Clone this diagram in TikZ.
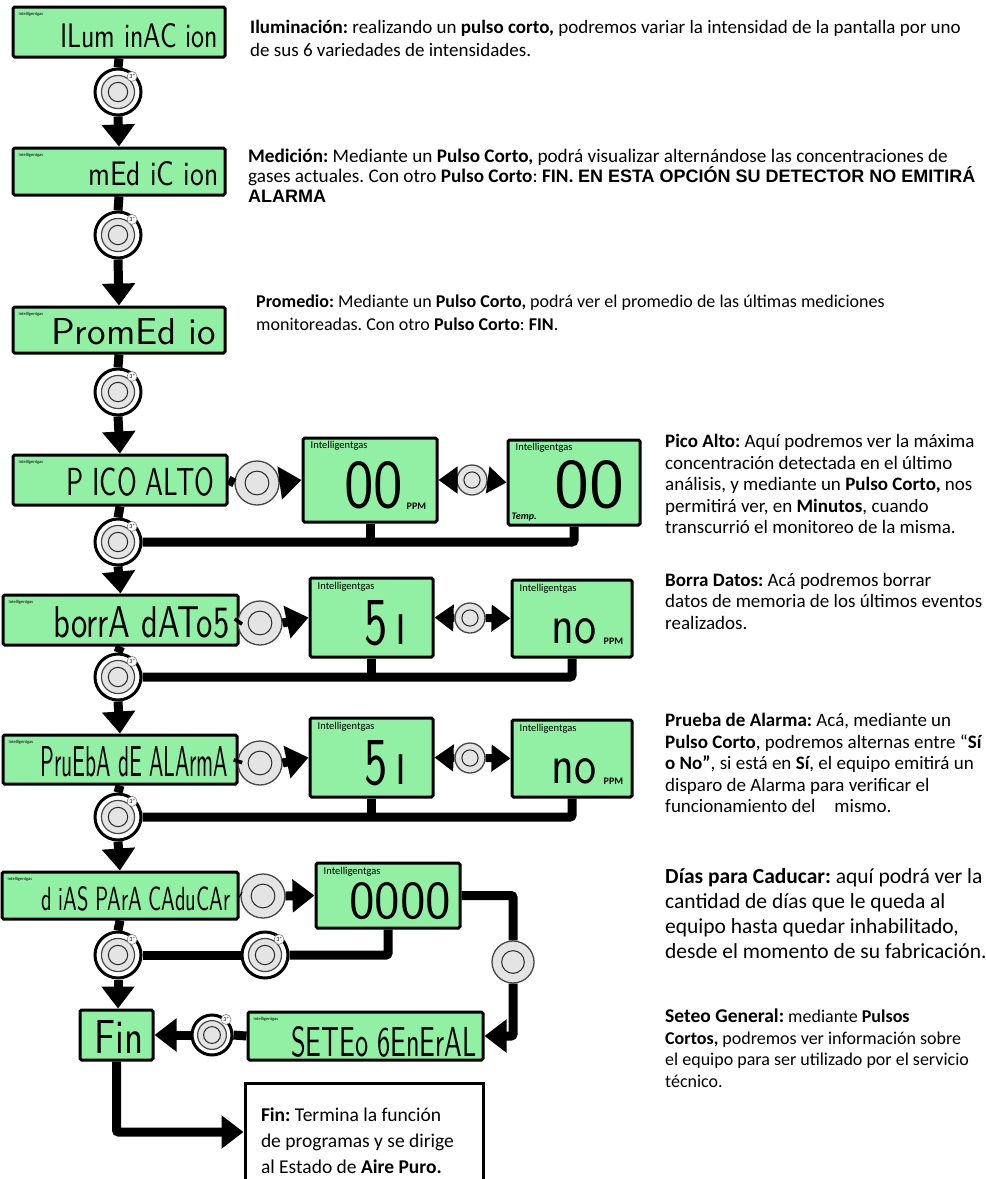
\documentclass[tikz,border=0pt]{standalone}
\usepackage{fontspec}
\usepackage{graphicx}
\setmainfont{Carlito}
\newfontfamily\arialfont{Liberation Sans}
\usetikzlibrary{arrows.meta,calc,positioning}

\definecolor{lcdgreen}{RGB}{146,240,164}
\definecolor{btngray}{RGB}{228,228,228}
\definecolor{btnedge}{RGB}{70,70,70}

% segment text squeezed into the display window
\newcommand{\lcdtxt}[3]{\resizebox{#1pt}{#2pt}{\sffamily #3}}

\begin{document}
\frenchspacing
\begin{tikzpicture}[x=1pt, y=-1pt,
    lcd/.style={draw, line width=3pt, fill=lcdgreen, rounded corners=1.5pt, inner sep=0pt},
    tag/.style={font=\fontsize{4.5}{5}\selectfont, inner sep=0pt, anchor=north west},
    bigtag/.style={font=\fontsize{10.5}{12}\selectfont, inner sep=0pt, anchor=north west},
    seg/.style={inner sep=0pt, anchor=south east},
    unit/.style={font=\fontsize{10}{11}\selectfont\bfseries, inner sep=0pt, anchor=south west},
    pulse/.style={circle, draw=btnedge, line width=1.3pt, fill=btngray, minimum size=#1, inner sep=0pt,
        path picture={\draw[line width=1pt, black!85] (path picture bounding box.center) circle (#1*0.27pt);}},
    hold/.style={circle, draw=black, line width=3pt, fill=white, minimum size=#1, inner sep=0pt,
        path picture={\draw[btnedge, fill=btngray, line width=1.2pt] (path picture bounding box.center) circle (#1*0.36pt);
                      \draw[black!85, line width=1pt] (path picture bounding box.center) circle (#1*0.21pt);}},
    badge/.style={circle, draw=gray, fill=white, line width=0.6pt, inner sep=0pt, minimum size=10pt,
        font=\fontsize{6}{6}\selectfont},
    link/.style={line width=9pt, rounded corners=2pt},
    flow/.style={line width=9pt, rounded corners=2pt, -{Triangle[width=32pt,length=22pt]}},
    sflow/.style={line width=8pt, -{Triangle[width=26pt,length=19pt]}},
    desc/.style={anchor=north west, align=left, inner sep=0pt, font=\fontsize{19}{21.5}\selectfont},
    note/.style={draw, line width=3pt, fill=white, minimum width=238, minimum height=116,
        text width=206, align=flush left, inner sep=0pt, font=\fontsize{19.5}{26}\selectfont}]

\useasboundingbox (0,0) rectangle (986,1179);

% main menu displays
\node[lcd, minimum width=212, minimum height=50] (ilum) at (119,32) {};
\node[lcd, minimum width=212, minimum height=47] (med) at (119,171.5) {};
\node[lcd, minimum width=212, minimum height=46] (prom) at (119,330) {};
\node[lcd, minimum width=214, minimum height=50] (pico) at (120,480) {};
\node[lcd, minimum width=235, minimum height=50] (borra) at (120.5,620) {};
\node[lcd, minimum width=234, minimum height=49] (prueba) at (120,759.5) {};
\node[lcd, minimum width=236, minimum height=47] (dias) at (120,895.5) {};
\node[lcd, minimum width=73, minimum height=50] (fin) at (116.5,1035) {};
\node[lcd, minimum width=235, minimum height=48] (seteo) at (365.5,1036) {};

\foreach \n in {ilum,med,prom,pico,borra,prueba,dias,seteo}
    \node[tag] (\n-tag) at ($(\n.north west)+(7,7)$) {Intelligentgas};

\node[seg] (ilum-seg) at ($(ilum.south east)+(-8,-10)$) {\lcdtxt{158}{24}{ILum inAC ion}};
\node[seg] (med-seg) at ($(med.south east)+(-8,-10)$) {\lcdtxt{130}{24}{mEd iC ion}};
\node[seg] (prom-seg) at ($(prom.south east)+(-10,-9)$) {\lcdtxt{165}{26}{PromEd io}};
\node[seg] (pico-seg) at ($(pico.south east)+(-14,-10)$) {\lcdtxt{148}{28}{P ICO ALTO}};
\node[seg] (borra-seg) at ($(borra.south east)+(-10,-8)$) {\lcdtxt{176}{31}{borrA dATo5}};
\node[seg] (prueba-seg) at ($(prueba.south east)+(-10,-8)$) {\lcdtxt{188}{30}{PruEbA dE ALArmA}};
\node[seg] (dias-seg) at ($(dias.south east)+(-9,-9)$) {\lcdtxt{189}{24}{d iAS PArA CAduCAr}};
\node[seg] (fin-seg) at ($(fin.south east)+(-11,-8)$) {\lcdtxt{49}{33}{Fin}};
\node[seg] (seteo-seg) at ($(seteo.south east)+(-8,-4)$) {\lcdtxt{185}{30}{SETEo 6EnErAL}};

% sub displays
\node[lcd, minimum width=134, minimum height=84] (peak) at (370,480) {};
\node[lcd, minimum width=132, minimum height=85] (peakt) at (574,482.5) {};
\node[lcd, minimum width=123, minimum height=79] (delyes) at (371.5,617.5) {};
\node[lcd, minimum width=120, minimum height=77] (delno) at (572,618.5) {};
\node[lcd, minimum width=123, minimum height=79] (almyes) at (371.5,757.5) {};
\node[lcd, minimum width=120, minimum height=77] (almno) at (572,758.5) {};
\node[lcd, minimum width=144, minimum height=65] (count) at (388,895.5) {};

\foreach \n in {peak,peakt,delyes,delno,almyes,almno,count}
    \node[bigtag] (\n-tag) at ($(\n.north west)+(9,5)$) {Intelligentgas};

\node[seg] (peak-seg) at ($(peak.south east)+(-35,-14)$) {\lcdtxt{59}{46}{00}};
\node[unit] (peak-unit) at ($(peak-seg.south east)+(3,0)$) {PPM};
\node[seg] (peakt-seg) at ($(peakt.south east)+(-17,-17)$) {\lcdtxt{70}{47}{00}};
\node[unit] (peakt-unit) at ($(peakt.south west)+(5,-5)$) {\itshape Temp.};
\node[seg] (delyes-seg) at ($(delyes.south east)+(-28,-12)$) {\lcdtxt{42}{44}{5\,\i}};
\node[seg] (delno-seg) at ($(delno.south east)+(-37,-14)$) {\lcdtxt{45}{25}{no}};
\node[unit] (delno-unit) at ($(delno-seg.south east)+(7,0)$) {PPM};
\node[seg] (almyes-seg) at ($(almyes.south east)+(-28,-12)$) {\lcdtxt{42}{44}{5\,\i}};
\node[seg] (almno-seg) at ($(almno.south east)+(-37,-14)$) {\lcdtxt{45}{25}{no}};
\node[unit] (almno-unit) at ($(almno-seg.south east)+(7,0)$) {PPM};
\node[seg] (count-seg) at ($(count.south east)+(-10,-10)$) {\lcdtxt{102}{36}{0000}};

% buttons, long press
\node[hold=46] (ilum-btn) at (118,92) {};
\node[hold=46] (med-btn) at (118,235) {};
\node[hold=46] (prom-btn) at (118,392) {};
\node[hold=46] (pico-btn) at (118,542) {};
\node[hold=46] (borra-btn) at (118,677) {};
\node[hold=46] (prueba-btn) at (118,817) {};
\node[hold=46] (dias-btn) at (118,955) {};
\node[hold=46] (count-btn) at (265,955) {};
\node[hold=40] (seteo-btn) at (212,1035) {};

\foreach \b in {ilum,med,prom,pico,borra,prueba,dias,count,seteo}
    \node[badge] (\b-3s) at ($(\b-btn.center)+(48:21pt)$) {3"};

% buttons, short press
\node[pulse=44] (pico-key) at (257,483) {};
\node[pulse=44] (borra-key) at (260,623) {};
\node[pulse=44] (prueba-key) at (260,763) {};
\node[pulse=44] (dias-key) at (263,896) {};
\node[pulse=30] (peak-key) at (472,480) {};
\node[pulse=30] (del-key) at (470,618) {};
\node[pulse=30] (alm-key) at (470,758) {};
\node[pulse=42] (count-key) at (513,962) {};

% main column
\foreach \a/\b in {ilum/med,med/prom,prom/pico,pico/borra,borra/prueba,prueba/dias}{
    \draw[link] (\a.south) -- (\a-btn.north);
    \draw[flow] (\a-btn.south) -- (\b.north);
}
\draw[link] (dias.south) -- (dias-btn.north);
\draw[flow] (dias-btn.south) -- (dias-btn.south |- fin.north);

% side branches
\foreach \a/\x/\y/\k in {pico/peak/peakt/peak,borra/delyes/delno/del,prueba/almyes/almno/alm}{
    \draw[link] (\a.east) -- (\a-key.west);
    \draw[flow] (\a-key.east) -- (\x.west);
    \draw[sflow] (\k-key.west) -- (\x.east);
    \draw[sflow] (\k-key.east) -- (\y.west);
    \draw[link] (\a-btn.east) -| (\y.south);
    \draw[link] (\x.south) -- (\x.south |- \a-btn.east);
}

% days / service
\draw[link] (dias.east) -- (dias-key.west);
\draw[flow] (dias-key.east) -- (count.west);
\draw[link] (dias-btn.east) -- (count-btn.west);
\draw[link] (count-btn.east) -| (count.south);
\draw[link] (count.east) -| (count-key.north);
\draw[flow] (count-key.south) |- (seteo.east);
\draw[link] (seteo.west) -- (seteo-btn.east);
\draw[flow] (seteo-btn.west) -- (fin.east);

% end note
\node[note] (finnote) at (364,1141) {\textbf{Fin:} Termina la función\\de programas y se dirige\\al Estado de \textbf{Aire Puro.}};
\coordinate (finnote-in) at ($(finnote.west)+(0,-9)$);
\draw[flow] (fin.south) |- (finnote-in);

% descriptions
\node[desc, font=\fontsize{19}{23}\selectfont] (ilum-txt) at (250,20) {\textbf{Iluminación:} realizando un \textbf{pulso corto,} podremos variar la intensidad de la pantalla por uno\\de sus 6 variedades de intensidades.};
\node[desc, font=\fontsize{19.2}{20}\selectfont] (med-txt) at (248,149) {\textbf{Medición:} Mediante un \textbf{Pulso Corto,} podrá visualizar alternándose las concentraciones de\\gases actuales. Con otro \textbf{Pulso Corto}: \textbf{FIN. {\arialfont\fontsize{18}{20}\selectfont EN ESTA OPCIÓN SU DETECTOR NO EMITIRÁ}}\\{\arialfont\bfseries\fontsize{18}{20}\selectfont ALARMA}};
\node[desc, font=\fontsize{18}{23}\selectfont] (prom-txt) at (256,294.5) {\textbf{Promedio:} Mediante un \textbf{Pulso Corto,} podrá ver el promedio de las últimas mediciones\\monitoreadas. Con otro \textbf{Pulso Corto}: \textbf{FIN}.};
\node[desc] (pico-txt) at (665,434) {\textbf{Pico Alto:} Aquí podremos ver la máxima\\concentración detectada en el último\\análisis, y mediante un \textbf{Pulso Corto,} nos\\permitirá ver, en \textbf{Minutos}, cuando\\transcurrió el monitoreo de la misma.};
\node[desc] (borra-txt) at (665,573) {\textbf{Borra Datos:} Acá podremos borrar\\datos de memoria de los últimos eventos\\realizados.};
\node[desc] (prueba-txt) at (665,713) {\textbf{Prueba de Alarma:} Acá, mediante un\\\textbf{Pulso Corto}, podremos alternas entre “\textbf{Sí}\\\textbf{o No”}, si está en \textbf{Sí}, el equipo emitirá un\\disparo de Alarma para verificar el\\funcionamiento del\quad mismo.};
\node[desc, font=\fontsize{21.5}{25}\selectfont] (dias-txt) at (665,868) {\textbf{Días para Caducar:} aquí podrá ver la\\cantidad de días que le queda al\\equipo hasta quedar inhabilitado,\\desde el momento de su fabricación.};
\node[desc, font=\fontsize{18}{21.5}\selectfont] (seteo-txt) at (665,1009) {{\fontsize{19.5}{21.5}\selectfont\textbf{Seteo General:}} mediante \textbf{Pulsos}\\\textbf{Cortos,} podremos ver información sobre\\el equipo para ser utilizado por el servicio\\técnico.};

\end{tikzpicture}
\end{document}
